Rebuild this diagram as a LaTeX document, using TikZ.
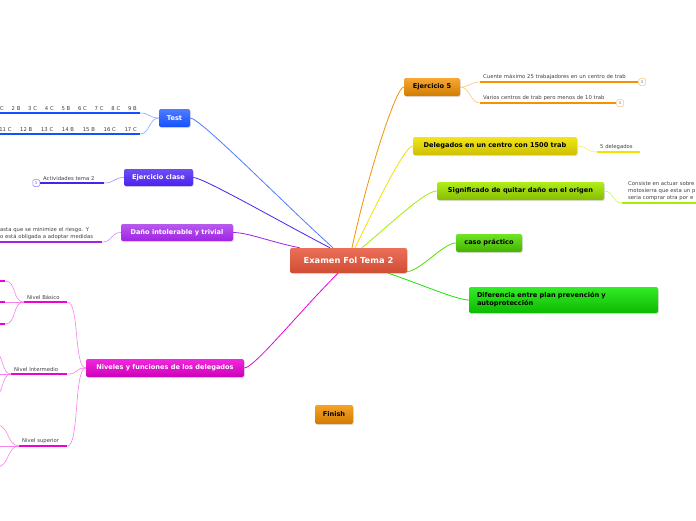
\documentclass[tikz,border=0pt]{standalone}
\usepackage{fontspec}
\setmainfont{DejaVu Sans}
\usetikzlibrary{positioning,shadows}

\definecolor{rootc}{HTML}{E8553A}
\definecolor{testc}{HTML}{1550FF}
\definecolor{clasec}{HTML}{4A22F0}
\definecolor{danoc}{HTML}{A023E6}
\definecolor{nivc}{HTML}{F000D8}
\definecolor{ejc}{HTML}{F59200}
\definecolor{delc}{HTML}{F2E200}
\definecolor{sigc}{HTML}{A8EC00}
\definecolor{casoc}{HTML}{55E000}
\definecolor{difc}{HTML}{10E800}

\newcommand{\topicfont}{\fontsize{6.6}{8}\selectfont\bfseries}
\newcommand{\leaffont}{\fontsize{5.3}{7.3}\selectfont}

\tikzset{
  topic/.style={rounded corners=2pt, inner sep=0pt, font=\topicfont, text=white,
    drop shadow={opacity=0.25, shadow xshift=0.8pt, shadow yshift=-1pt}},
  leaf/.style={inner xsep=3pt, inner ysep=1.8pt, font=\leaffont, text=black!75,
    align=left, anchor=south west},
  spoke/.style={line width=0.8pt},
  twig/.style={line width=0.6pt},
  under/.style={line width=2.6pt},
  num/.style={draw, rounded corners=1.5pt, line width=0.5pt, minimum size=7pt,
    inner sep=0pt, font=\fontsize{4}{4}\selectfont, text=black!60, fill=white},
}

\begin{document}
\begin{tikzpicture}[x=1pt,y=-1pt]
  \fill[white] (0,0) rectangle (696,520);
  \clip (0,0) rectangle (696,520);

  \node[topic, top color=rootc!85!white, bottom color=rootc!90!black,
    minimum width=117pt, minimum height=25pt, font=\fontsize{8.3}{9}\selectfont\bfseries]
    (root) at (348.5,260.5) {Examen Fol Tema 2};

  % left side
  \node[topic, top color=testc!75!white, bottom color=testc,
    minimum width=31pt, minimum height=18pt] (test) at (174.5,118) {Test};
  \node[leaf, anchor=south east, align=right, text width=170pt]
    (row1) at (140,113) {1 C\hspace{7.8pt}2 B\hspace{7.8pt}3 C\hspace{7.8pt}4 C\hspace{7.8pt}5 B\hspace{7.8pt}6 C\hspace{7.8pt}7 C\hspace{7.8pt}8 C\hspace{7.8pt}9 B};
  \node[leaf, anchor=south east, align=right, text width=170pt]
    (row2) at (140,134) {11 C\hspace{8.7pt}12 B\hspace{8.7pt}13 C\hspace{8.7pt}14 B\hspace{8.7pt}15 B\hspace{8.7pt}16 C\hspace{8.7pt}17 C};

  \node[topic, top color=clasec!80!white, bottom color=clasec,
    minimum width=69pt, minimum height=17pt] (clase) at (158.5,177.5) {Ejercicio clase};
  \node[leaf, text width=58pt] (act) at (40,183) {Actividades tema 2};
  \node[num, draw=clasec!60, left=0pt of act.south west] (actn) {1};

  \node[topic, top color=danoc!75!white, bottom color=danoc,
    minimum width=112pt, minimum height=17pt] (dano) at (177,232.5) {Daño intolerable y trivial};
  \node[leaf, text width=102pt, inner xsep=0pt] (danot) at (0,242)
    {asta que se minimize el riesgo. Y\\o está obligada a adoptar medidas};

  \node[topic, top color=nivc!85!white, bottom color=nivc!85!black,
    minimum width=158pt, minimum height=18pt] (niv) at (165,368) {Niveles y funciones de los delegados};
  \node[leaf, text width=37pt] (basico) at (24,302) {Nivel Básico};
  \node[leaf, text width=50pt] (inter) at (11,374) {Nivel Intermedio};
  \node[leaf, text width=42pt] (super) at (19,446) {Nivel superior};
  \coordinate (b1) at (5,281);
  \coordinate (b2) at (5,302);
  \coordinate (b3) at (5,324);
  \coordinate (i1) at (-6,352);
  \coordinate (i2) at (-6,374);
  \coordinate (i3) at (-6,396);
  \coordinate (s1) at (-3,425);
  \coordinate (s2) at (-3,446);
  \coordinate (s3) at (-3,467);

  % right side
  \node[topic, top color=ejc!80!white, bottom color=ejc!85!black, text=black,
    minimum width=56pt, minimum height=18pt] (ej5) at (432,87) {Ejercicio 5};
  \node[leaf, text width=152pt] (cuente) at (480,82) {Cuente máximo 25 trabajadores en un centro de trab};
  \node[num, draw=ejc!50, right=0pt of cuente.south east] (cuenten) {1};
  \node[leaf, text width=130pt] (varios) at (480,103) {Varios centros de trab pero menos de 10 trab};
  \node[num, draw=ejc!50, right=0pt of varios.south east] (variosn) {1};

  \node[topic, top color=delc!90!white, bottom color=delc!85!black, text=black,
    minimum width=164pt, minimum height=18pt] (deleg) at (495,146) {Delegados en un centro con 1500 trab};
  \node[leaf, text width=37pt] (cinco) at (597,152) {5 delegados};

  \node[topic, top color=sigc!90!white, bottom color=sigc!80!black, text=black,
    minimum width=167pt, minimum height=18pt] (sig) at (520.5,191) {Significado de quitar daño en el origen};
  \node[leaf, text width=90pt, inner xsep=6pt] (consiste) at (622,203)
    {Consiste en actuar sobre\\motosierra que esta un p\\seria comprar otra por e};

  \node[topic, top color=casoc!85!white, bottom color=casoc!80!black, text=black,
    minimum width=66pt, minimum height=18pt] (caso) at (489,243) {caso práctico};

  \node[topic, top color=difc!85!white, bottom color=difc!80!black, text=black,
    minimum width=189pt, minimum height=26pt, text width=173pt, align=left]
    (dif) at (563.5,300) {Diferencia entre plan prevención y\\autoprotección};

  \node[topic, top color=ejc!85!white, bottom color=ejc!85!black, text=black,
    minimum width=38pt, minimum height=19pt] (finish) at (334,414.5) {Finish};

  % spokes to the root
  \draw[spoke, testc!75] (test.east) .. controls +(10,0) and +(-50,-45) .. ([xshift=-15.5pt]root.north);
  \draw[spoke, clasec] (clase.east) .. controls +(10,0) and +(-50,-26) .. ([xshift=-18.5pt]root.north);
  \draw[spoke, danoc] (dano.east) .. controls +(15,0) and +(-30,-6) .. ([xshift=10pt]root.north west);
  \draw[spoke, nivc] (niv.east) .. controls +(10,0) and +(-40,40) .. ([xshift=-10.5pt]root.south);
  \draw[spoke, ejc] (ej5.west) .. controls +(-8,0) and +(15,-70) .. ([xshift=3.5pt]root.north);
  \draw[spoke, delc] (deleg.west) .. controls +(-8,0) and +(22,-45) .. ([xshift=6.5pt]root.north);
  \draw[spoke, sigc] (sig.west) .. controls +(-12,0) and +(30,-25) .. ([xshift=13.5pt]root.north);
  \draw[spoke, casoc] (caso.west) .. controls +(-12,0) and +(12,0) .. ([yshift=-11pt]root.east);
  \draw[spoke, difc] (dif.west) .. controls +(-12,0) and +(30,10) .. ([xshift=-19pt]root.south east);

  % twigs and underlines
  \draw[twig, testc!50] (test.west) .. controls +(-10,0) and +(10,0) .. (row1.south east);
  \draw[twig, testc!50] (test.west) .. controls +(-10,0) and +(10,0) .. (row2.south east);
  \draw[under, testc] (row1.south west) -- (row1.south east);
  \draw[under, testc] (row2.south west) -- (row2.south east);

  \draw[twig, clasec!50] (clase.west) .. controls +(-10,0) and +(10,0) .. (act.south east);
  \draw[under, clasec] (act.south west) -- (act.south east);

  \draw[twig, danoc!50] (dano.west) .. controls +(-10,0) and +(10,0) .. (danot.south east);
  \draw[under, danoc] (danot.south west) -- (danot.south east);

  \draw[twig, nivc!50] (niv.west) .. controls +(-12,0) and +(12,0) .. (basico.south east);
  \draw[twig, nivc!50] (niv.west) .. controls +(-12,0) and +(12,0) .. (inter.south east);
  \draw[twig, nivc!50] (niv.west) .. controls +(-12,0) and +(12,0) .. (super.south east);
  \draw[under, nivc] (basico.south west) -- (basico.south east);
  \draw[under, nivc] (inter.south west) -- (inter.south east);
  \draw[under, nivc] (super.south west) -- (super.south east);
  \draw[twig, nivc!50] (basico.south west) .. controls +(-12,0) and +(12,0) .. (b1);
  \draw[twig, nivc!50] (basico.south west) -- (b2);
  \draw[twig, nivc!50] (basico.south west) .. controls +(-12,0) and +(12,0) .. (b3);
  \draw[under, nivc] (b1) -- ++(-12,0);
  \draw[under, nivc] (b2) -- ++(-12,0);
  \draw[under, nivc] (b3) -- ++(-12,0);
  \draw[twig, nivc!50] (inter.south west) .. controls +(-10,0) and +(10,0) .. (i1);
  \draw[twig, nivc!50] (inter.south west) -- (i2);
  \draw[twig, nivc!50] (inter.south west) .. controls +(-10,0) and +(10,0) .. (i3);
  \draw[twig, nivc!50] (super.south west) .. controls +(-12,0) and +(12,0) .. (s1);
  \draw[twig, nivc!50] (super.south west) -- (s2);
  \draw[twig, nivc!50] (super.south west) .. controls +(-12,0) and +(12,0) .. (s3);

  \draw[twig, ejc!50] (ej5.east) .. controls +(10,0) and +(-10,0) .. (cuente.south west);
  \draw[twig, ejc!50] (ej5.east) .. controls +(10,0) and +(-10,0) .. (varios.south west);
  \draw[under, ejc] (cuente.south west) -- (cuente.south east);
  \draw[under, ejc] (varios.south west) -- (varios.south east);

  \draw[twig, delc!60] (deleg.east) .. controls +(10,0) and +(-10,0) .. (cinco.south west);
  \draw[under, delc] (cinco.south west) -- (cinco.south east);

  \draw[twig, sigc!60] (sig.east) .. controls +(10,0) and +(-10,0) .. (consiste.south west);
  \draw[under, sigc] (consiste.south west) -- (consiste.south east);
\end{tikzpicture}
\end{document}
